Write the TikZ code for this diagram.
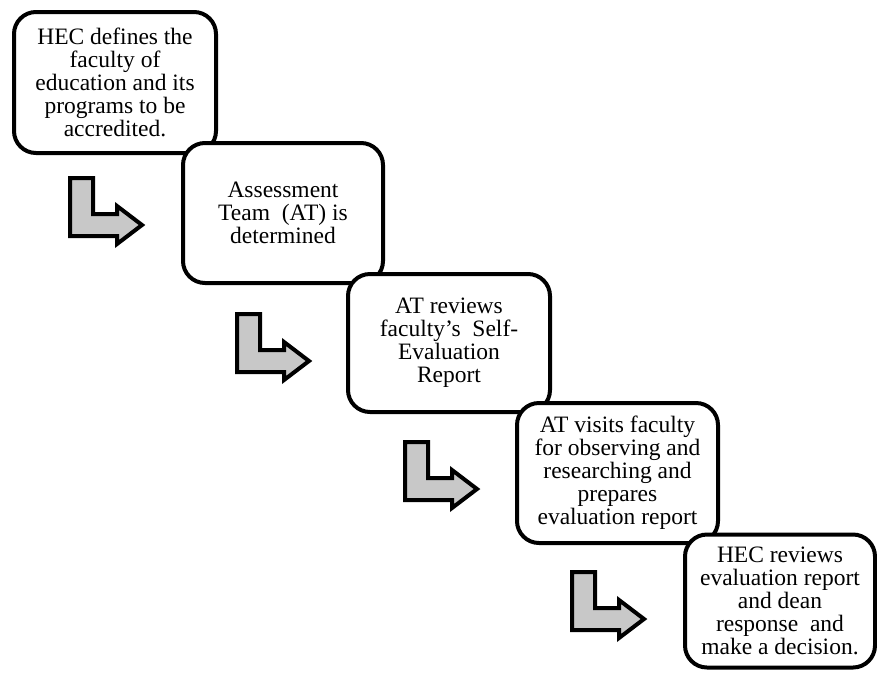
\documentclass[tikz,border=0pt]{standalone}
\usepackage{fontspec}
\setmainfont{Liberation Serif}
\definecolor{arrgray}{HTML}{C8C8C8}
\tikzset{
  stepbox/.style={draw=black, line width=4pt, fill=white, rounded corners=22pt,
    inner sep=0pt, align=center, font=\fontsize{23.5}{23}\selectfont},
  larrowstyle/.style={draw=black, fill=arrgray, line width=4pt, line join=miter, miter limit=10}
}
\newcommand{\drawLarrow}[1]{%
  \draw[larrowstyle] ([shift={(2,2)}]#1) -- ([shift={(25,2)}]#1) -- ([shift={(25,38)}]#1)
    -- ([shift={(49,38)}]#1) -- ([shift={(49,30)}]#1) -- ([shift={(74,49)}]#1)
    -- ([shift={(49,68)}]#1) -- ([shift={(49,60)}]#1) -- ([shift={(2,60)}]#1) -- cycle;}
\begin{document}
\begin{tikzpicture}[x=1pt,y=-1pt]
\useasboundingbox (0,0) rectangle (877,673);
\clip (0,0) rectangle (877,673);
\node[stepbox, minimum width=202pt, minimum height=141pt] (b1) at (115,82.5)
  {HEC defines the\\faculty of\\education and its\\programs to be\\accredited.};
\coordinate (a1) at (68,176);
\drawLarrow{a1}
\node[stepbox, minimum width=200pt, minimum height=140pt] (b2) at (283,213)
  {Assessment\\Team\ \ (AT) is\\determined};
\coordinate (a2) at (235,312);
\drawLarrow{a2}
\node[stepbox, minimum width=202pt, minimum height=138pt] (b3) at (449,343)
  {AT reviews\\faculty’s\ \ Self-\\Evaluation\\Report};
\coordinate (a3) at (403,440);
\drawLarrow{a3}
\node[stepbox, minimum width=201pt, minimum height=140pt] (b4) at (617.5,473)
  {AT visits faculty\\for observing and\\researching and\\prepares\\evaluation report};
\coordinate (a4) at (570,570);
\drawLarrow{a4}
\node[stepbox, minimum width=190pt, minimum height=133pt] (b5) at (780,601)
  {HEC reviews\\evaluation report\\and dean\\response\ \ and\\make a decision.};
\end{tikzpicture}
\end{document}
